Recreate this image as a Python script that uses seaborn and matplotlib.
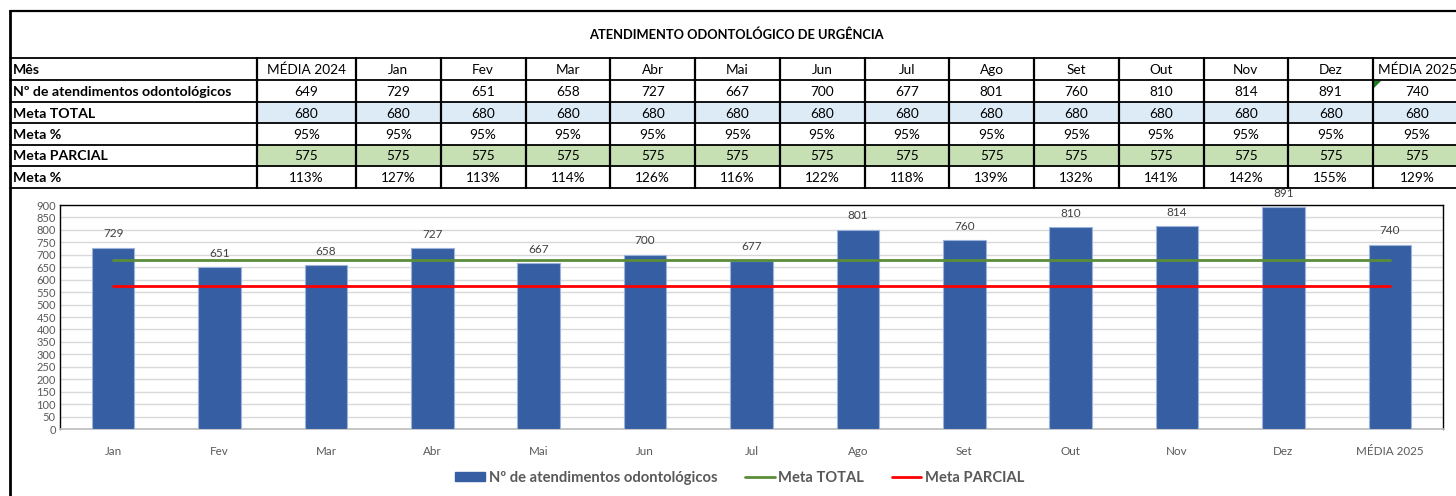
import matplotlib
matplotlib.use("Agg")
import matplotlib.pyplot as plt
import seaborn as sns
import pandas as pd
from matplotlib.patches import Patch, Polygon
from matplotlib.lines import Line2D

# dados da planilha
colunas = ['MÉDIA 2024', 'Jan', 'Fev', 'Mar', 'Abr', 'Mai', 'Jun', 'Jul',
           'Ago', 'Set', 'Out', 'Nov', 'Dez', 'MÉDIA 2025']
atendimentos = [649, 729, 651, 658, 727, 667, 700, 677, 801, 760, 810, 814, 891, 740]
meta_total = [680] * 14
meta_pct = ['95%'] * 14
meta_parcial = [575] * 14
meta_pct2 = ['113%', '127%', '113%', '114%', '126%', '116%', '122%', '118%',
             '139%', '132%', '141%', '142%', '155%', '129%']
rotulos = ['Mês', 'Nº de atendimentos odontológicos', 'Meta TOTAL', 'Meta %',
           'Meta PARCIAL', 'Meta %']
titulo = 'ATENDIMENTO ODONTOLÓGICO DE URGÊNCIA'

sns.set_theme(style='white')
plt.rcParams['font.family'] = ['Lato', 'DejaVu Sans']

W, H = 1456, 496
fig = plt.figure(figsize=(W / 100, H / 100), dpi=100)

# eixo de fundo em pixels para a tabela
bg = fig.add_axes([0, 0, 1, 1])
bg.set_xlim(0, W)
bg.set_ylim(H, 0)
bg.axis('off')

x_edges = [10, 257, 356] + [356 + 84.75 * i for i in range(1, 13)] + [1460]
y_edges = [58, 80, 102, 123, 145, 166, 188]

# preenchimentos
for j in range(14):
    x0, x1 = x_edges[j + 1], x_edges[j + 2]
    bg.fill_between([x0, x1], y_edges[2], y_edges[3], color='#DDEBF7', lw=0)
    bg.fill_between([x0, x1], y_edges[4], y_edges[5], color='#C6E0B4', lw=0)

# linhas
lc = '#000000'
bg.plot([10, 1460], [11, 11], color=lc, lw=1.6)
for y in y_edges:
    bg.plot([10, 1460], [y, y], color=lc, lw=1.3)
bg.plot([10, 10], [11, 496], color=lc, lw=2)
for x in x_edges[1:-1]:
    bg.plot([x, x], [58, 188], color=lc, lw=1.6)

# marcador verde do excel
bg.add_patch(Polygon([[1374, 81], [1381, 81], [1374, 88]], closed=True, color='#1E7B1E', lw=0))

bg.text(736, 35, titulo, ha='center', va='center', fontsize=9.3, fontweight='bold', color='black')

valores = [colunas, [str(v) for v in atendimentos], [str(v) for v in meta_total],
           meta_pct, [str(v) for v in meta_parcial], meta_pct2]
for i, rot in enumerate(rotulos):
    yc = (y_edges[i] + y_edges[i + 1]) / 2 + 1
    bg.text(13, yc, rot, ha='left', va='center', fontsize=10.2, fontweight='bold', color='black')
    for j, v in enumerate(valores[i]):
        xc = (x_edges[j + 1] + x_edges[j + 2]) / 2
        if j == 13:
            xc = 1417
        bg.text(xc, yc, v, ha='center', va='center', fontsize=9.8, color='black')

# grafico
ax = fig.add_axes([60 / W, 1 - 429 / H, (1443 - 60) / W, (429 - 205) / H])
meses = colunas[1:]
df = pd.DataFrame({'mes': meses, 'valor': atendimentos[1:]})
sns.barplot(data=df, x='mes', y='valor', color='#365FA3', saturation=1, width=0.4,
            edgecolor='#9DB3DC', linewidth=0.8, ax=ax, zorder=3)
pos = list(range(len(meses)))
ax.plot(pos, meta_total[1:], color='#5B8C3A', lw=2, zorder=4)
ax.plot(pos, meta_parcial[1:], color='#FF0000', lw=2, zorder=4)
ax.bar_label(ax.containers[0], padding=6, fontsize=8.5, color='#404040')

ax.set_ylim(0, 900)
ax.set_xlim(-0.5, len(meses) - 0.5)
ax.set_yticks(range(0, 901, 50))
ax.yaxis.grid(True, color='#D9D9D9', lw=1, zorder=0)
ax.set_axisbelow(True)
ax.set_xlabel('')
ax.set_ylabel('')
ax.tick_params(axis='both', length=0, labelsize=8, labelcolor='#595959')
ax.tick_params(axis='x', pad=12, labelsize=8.4)
ax.tick_params(axis='y', pad=3)
for s in ['top', 'left', 'right']:
    ax.spines[s].set_color('#000000')
    ax.spines[s].set_linewidth(1)
ax.spines['bottom'].set_color('#BFBFBF')

handles = [Patch(facecolor='#365FA3', edgecolor='#365FA3'),
           Line2D([0], [0], color='#5B8C3A', lw=2),
           Line2D([0], [0], color='#FF0000', lw=2)]
labels = ['Nº de atendimentos odontológicos', 'Meta TOTAL', 'Meta PARCIAL']
leg = fig.legend(handles, labels, loc='center', ncol=3, frameon=False,
                 bbox_to_anchor=(740 / W, 1 - 478 / H), handlelength=2.0,
                 handleheight=0.6, handletextpad=0.25, columnspacing=1.9,
                 prop={'size': 10.6, 'weight': 'bold'})
for t in leg.get_texts():
    t.set_color('#595959')

fig.savefig('out.png', dpi=100)
